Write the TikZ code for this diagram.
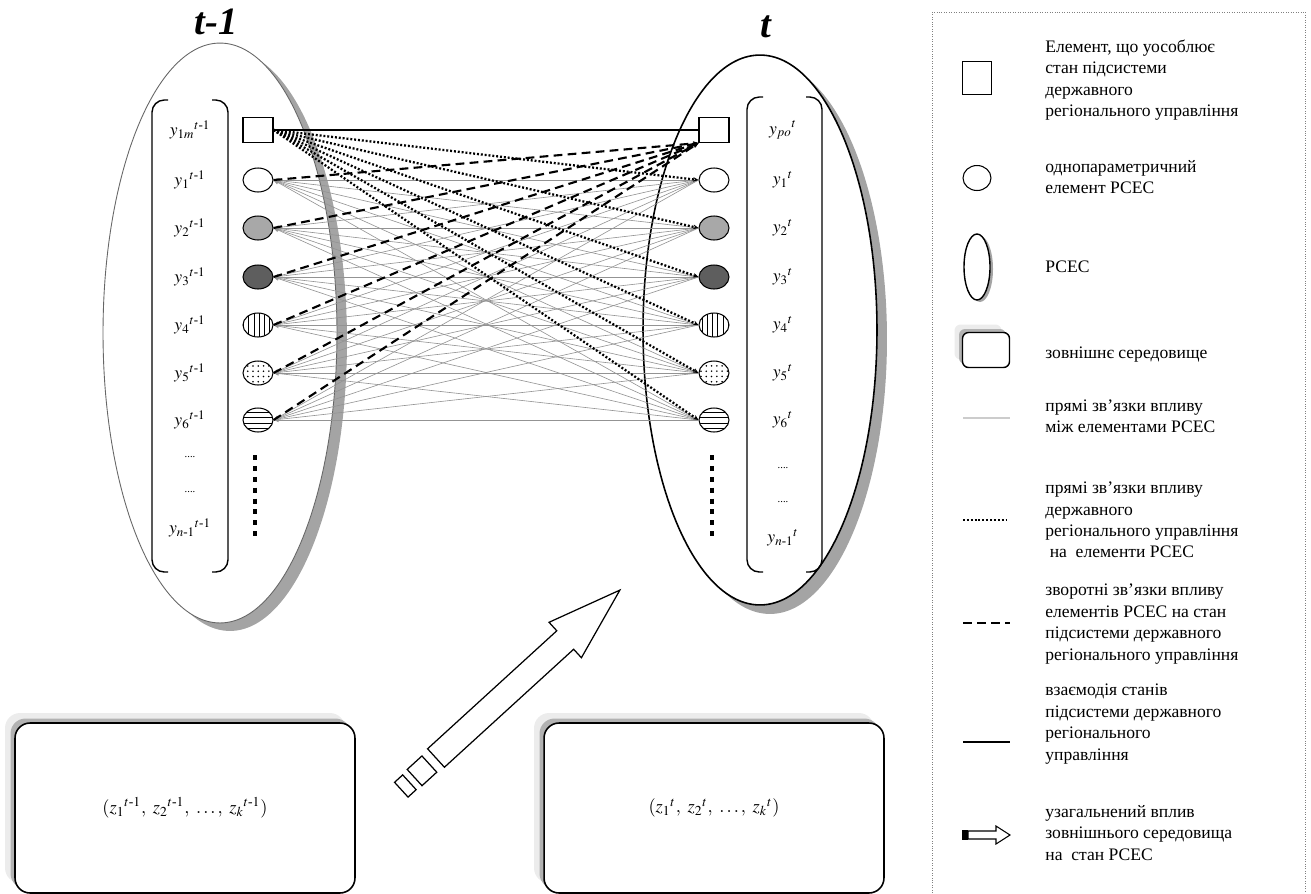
\documentclass[tikz,border=0pt]{standalone}
\usepackage{amsmath}
\usepackage{mathptmx}
\usepackage[no-math]{fontspec}
\setmainfont{Liberation Serif}
\newfontfamily\keyfont{Liberation Serif}
\usepackage{tikz}
\usetikzlibrary{shapes.geometric,patterns,shadows,arrows.meta}

\definecolor{fillmid}{HTML}{A8A8A8}
\definecolor{filldark}{HTML}{5E5E5E}
\definecolor{shadowgray}{HTML}{A4A4A4}

\tikzset{
  elem/.style={draw, ellipse, minimum width=0.6cm, minimum height=0.48cm, inner sep=0pt, line width=0.6pt},
  state/.style={draw, rectangle, minimum width=0.6cm, minimum height=0.5cm, inner sep=0pt, line width=0.6pt},
  ylab/.style={font=\fontsize{10}{12}\selectfont},
  dots/.style={font=\keyfont\fontsize{6}{7}\selectfont},
  linkthin/.style={{Stealth[length=3pt,width=2.4pt]}-, gray!85, line width=0.35pt},
  linkdash/.style={-{Stealth[length=3pt,width=2.6pt]}, line width=1.2pt, dash pattern=on 5pt off 3pt},
  linkdot/.style={-{Stealth[length=3pt,width=2.6pt]}, line width=1.3pt, dash pattern=on 1.1pt off 1.1pt},
  linkstate/.style={line width=1.5pt},
  envbox/.style={draw, line width=0.9pt, rounded corners=0.3cm, fill=white,
    minimum width=6.8cm, minimum height=3.4cm, font=\fontsize{10.5}{12}\selectfont,
    general shadow={fill=gray!15, shadow xshift=-0.2cm, shadow yshift=0.2cm},
    general shadow={fill=gray!60, shadow xshift=-0.09cm, shadow yshift=0.09cm}},
  envkey/.style={draw, line width=0.8pt, rounded corners=0.12cm, fill=white,
    minimum width=0.94cm, minimum height=0.7cm,
    general shadow={fill=gray!15, shadow xshift=-0.16cm, shadow yshift=0.16cm},
    general shadow={fill=gray!60, shadow xshift=-0.07cm, shadow yshift=0.07cm}},
  keytext/.style={anchor=west, align=left, font=\keyfont\fontsize{10}{12.2}\selectfont, inner sep=0pt},
  slicetitle/.style={font=\keyfont\fontsize{22}{26}\selectfont\bfseries\itshape},
}

\begin{document}
\begin{tikzpicture}[x=0.02cm, y=-0.02cm]
\useasboundingbox (0,0) rectangle (1311,893);

% the two time slices
\node[draw=gray!80!black, line width=0.5pt, ellipse, fill=white, minimum width=4.68cm, minimum height=11.6cm,
  general shadow={fill=shadowgray, shadow xshift=0.2cm, shadow yshift=-0.16cm}] (sysA) at (220,333) {};
\node[draw, line width=0.9pt, ellipse, fill=white, minimum width=4.68cm, minimum height=11cm,
  general shadow={fill=shadowgray, shadow xshift=0.2cm, shadow yshift=-0.18cm}] (sysB) at (760,330) {};

\node[slicetitle] (tA) at (216,22) {t-1};
\node[slicetitle] (tB) at (766,27) {t};

% brackets round the state vectors
\draw[line width=0.8pt, rounded corners=7pt] (168,100) -- (152,100) -- (152,572) -- (168,572);
\draw[line width=0.8pt, rounded corners=7pt] (212,100) -- (228,100) -- (228,572) -- (212,572);
\draw[line width=0.8pt, rounded corners=7pt] (763,97) -- (747,97) -- (747,572) -- (763,572);
\draw[line width=0.8pt, rounded corners=7pt] (806,97) -- (822,97) -- (822,572) -- (806,572);

\node[ylab] (a0) at (190,130) {$y_{1m}{}^{t\text{-}1}$};
\node[ylab] (a1) at (190,180) {$y_{1}{}^{t\text{-}1}$};
\node[ylab] (a2) at (190,228) {$y_{2}{}^{t\text{-}1}$};
\node[ylab] (a3) at (190,277) {$y_{3}{}^{t\text{-}1}$};
\node[ylab] (a4) at (190,325) {$y_{4}{}^{t\text{-}1}$};
\node[ylab] (a5) at (190,373) {$y_{5}{}^{t\text{-}1}$};
\node[ylab] (a6) at (190,420) {$y_{6}{}^{t\text{-}1}$};
\node[dots] (a7) at (190,457) {....};
\node[dots] (a8) at (190,492) {....};
\node[ylab] (a9) at (190,528) {$y_{n\text{-}1}{}^{t\text{-}1}$};

\node[ylab] (b0) at (783,130) {$y_{po}{}^{t}$};
\node[ylab] (b1) at (783,180) {$y_{1}{}^{t}$};
\node[ylab] (b2) at (783,228) {$y_{2}{}^{t}$};
\node[ylab] (b3) at (783,277) {$y_{3}{}^{t}$};
\node[ylab] (b4) at (783,325) {$y_{4}{}^{t}$};
\node[ylab] (b5) at (783,373) {$y_{5}{}^{t}$};
\node[ylab] (b6) at (783,420) {$y_{6}{}^{t}$};
\node[dots] (b7) at (783,468) {....};
\node[dots] (b8) at (783,502) {....};
\node[ylab] (b9) at (783,538) {$y_{n\text{-}1}{}^{t}$};

% elements
\node[state] (L0) at (258,130) {};
\node[elem, fill=white] (L1) at (258,180) {};
\node[elem, fill=fillmid] (L2) at (258,228) {};
\node[elem, fill=filldark] (L3) at (258,277) {};
\node[elem, pattern=vertical lines] (L4) at (258,325) {};
\node[elem, pattern=dots] (L5) at (258,373) {};
\node[elem, pattern=horizontal lines] (L6) at (258,420) {};

\node[state] (R0) at (714,130) {};
\node[elem, fill=white] (R1) at (714,180) {};
\node[elem, fill=fillmid] (R2) at (714,228) {};
\node[elem, fill=filldark] (R3) at (714,277) {};
\node[elem, pattern=vertical lines] (R4) at (714,325) {};
\node[elem, pattern=dots] (R5) at (714,373) {};
\node[elem, pattern=horizontal lines] (R6) at (714,420) {};

\draw[line width=2.8pt, dash pattern=on 2.8pt off 3.4pt] (255,455) -- (255,540);
\draw[line width=2.8pt, dash pattern=on 2.8pt off 3.4pt] (712,455) -- (712,540);

% links
\foreach \i in {1,...,6}{
  \foreach \j in {1,...,6}{
    \draw[linkthin] (L\i.east) -- (R\j.west);
  }
}
\foreach \i in {1,...,6}
  \draw[linkdash] (L\i.east) -- (R0.south west);
\foreach \i in {1,...,6}
  \draw[linkdot] (L0.east) -- (R\i.west);
\draw[linkstate] (L0) -- (R0);

% environment
\node[envbox] (envA) at (185,808) {$(z_1{}^{t\text{-}1},\ z_2{}^{t\text{-}1},\ \ldots,\ z_k{}^{t\text{-}1})$};
\node[envbox] (envB) at (714,808) {$(z_1{}^{t},\ z_2{}^{t},\ \ldots,\ z_k{}^{t})$};

\begin{scope}[shift={(436,758)}, rotate=42.4]
  \draw[line width=0.7pt, fill=white] (0,-12.5) -- (175,-12.5) -- (175,-24) -- (249,0)
    -- (175,24) -- (175,12.5) -- (0,12.5) -- cycle;
  \draw[line width=0.7pt] (-9,-11) rectangle (-29,11);
  \draw[line width=0.7pt] (-36,-10) rectangle (-47,10);
\end{scope}

% legend
\draw[densely dotted, gray] (932,893) -- (932,12) -- (1305,12) -- (1305,893);

\node[state, minimum width=0.58cm, minimum height=0.66cm] (k1) at (977,78) {};
\node[keytext] (t1) at (1045,80) {Елемент, що уособлює\\стан підсистеми\\державного\\регіонального управління};

\node[elem, minimum width=0.56cm, minimum height=0.5cm] (k2) at (977,178) {};
\node[keytext] (t2) at (1045,177) {однопараметричний\\елемент РСЕС};

\node[draw, ellipse, line width=0.8pt, fill=white, minimum width=0.52cm, minimum height=1.32cm, inner sep=0pt,
  general shadow={fill=shadowgray, shadow xshift=0.06cm, shadow yshift=-0.04cm}] (k3) at (977,267) {};
\node[keytext] (t3) at (1045,267) {РСЕС};

\node[envkey] (k4) at (986,350) {};
\node[keytext] (t4) at (1045,355) {зовнішнє середовище};

\draw[gray!40, line width=0.6pt] (963,418) -- (1010,418);
\node[keytext] (t5) at (1045,416) {прямі зв’язки впливу\\між елементами РСЕС};

\draw[line width=1.3pt, dash pattern=on 1.1pt off 1.1pt] (963,520) -- (1008,520);
\node[keytext] (t6) at (1045,520) {прямі зв’язки впливу\\державного\\регіонального управління\\\ на\ \ елементи РСЕС};

\draw[line width=1.2pt, dash pattern=on 5pt off 3pt] (963,623) -- (1010,623);
\node[keytext] (t7) at (1045,624) {зворотні зв’язки впливу\\елементів РСЕС на стан\\підсистеми державного\\регіонального управління};

\draw[line width=1.5pt] (963,742) -- (1010,742);
\node[keytext] (t8) at (1045,724) {взаємодія станів\\підсистеми державного\\регіонального\\управління};

\draw[line width=0.6pt, fill=white] (968,831) -- (996,831) -- (996,826) -- (1010,835) -- (996,844) -- (996,839) -- (968,839) -- cycle;
\draw[line width=0.6pt, fill=black] (963,831) rectangle (967,839);
\node[keytext] (t9) at (1045,833) {узагальнений вплив\\зовнішнього середовища\\на\ \ стан РСЕС};

\end{tikzpicture}
\end{document}
